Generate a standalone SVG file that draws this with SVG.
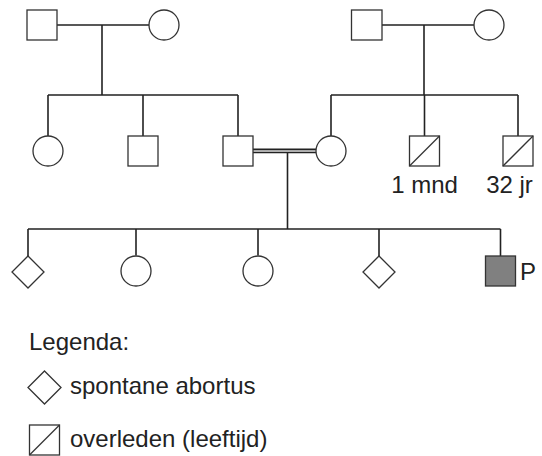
<svg xmlns="http://www.w3.org/2000/svg" width="542" height="456" viewBox="0 0 542 456">
<style>
.c{stroke:#222;stroke-width:1.6;fill:none}
.s{stroke:#333;stroke-width:1.3;fill:#fff}
.d{stroke:#333;stroke-width:1.3;fill:none}
text{font-family:"Liberation Sans",Arial,sans-serif;fill:#222;font-size:24px}
</style>
<rect width="542" height="456" fill="#fff"/>
<g id="connectors">
<path class="c" d="M57 25H149M102 25V95M48 95H238M48 95V136M143 95V136M238 95V136"/>
<path class="c" d="M382 25H474M424 25V95M331 95H518M331 95V136M424.5 95V136M518 95V136"/>
<path class="c" d="M253 149.3H316M253 152.5H316" stroke-width="1.3"/>
<path d="M253 150.9H316" stroke="#aaa" stroke-width="1.6"/>
<path class="c" d="M287.5 152.5V229M28 229H500.5M28 229V256M136 229V255.5M258 229V255.5M379 229V256M500.5 229V256"/>
</g>
<g id="gp1-father"><rect class="s" x="27" y="10" width="30" height="30"/></g>
<g id="gp1-mother"><circle class="s" cx="164" cy="25" r="15"/></g>
<g id="gp2-father"><rect class="s" x="351.5" y="10" width="30.5" height="30"/></g>
<g id="gp2-mother"><circle class="s" cx="489" cy="25" r="15"/></g>
<g id="aunt1"><circle class="s" cx="48" cy="151" r="15"/></g>
<g id="uncle1"><rect class="s" x="128" y="136" width="30" height="30"/></g>
<g id="father"><rect class="s" x="223" y="136" width="30" height="30"/></g>
<g id="mother"><circle class="s" cx="331" cy="151" r="15"/></g>
<g id="uncle2"><rect class="s" x="409.5" y="136" width="30" height="30"/><path class="d" d="M409.5 166L439.5 136"/><text x="424.5" y="193" text-anchor="middle">1 mnd</text></g>
<g id="uncle3"><rect class="s" x="503" y="136" width="30" height="30"/><path class="d" d="M503 166L533 136"/><text x="509.5" y="193" text-anchor="middle">32 jr</text></g>
<g id="child1"><path class="s" d="M28 256L44 272L28 288L12 272Z"/></g>
<g id="child2"><circle class="s" cx="136" cy="271" r="15"/></g>
<g id="child3"><circle class="s" cx="258" cy="271" r="15"/></g>
<g id="child4"><path class="s" d="M379 256L395 272L379 288L363 272Z"/></g>
<g id="proband"><rect class="s" x="485.5" y="256" width="30" height="30" style="fill:#808080"/><text x="520" y="280">P</text></g>
<g id="legend">
<text x="29" y="349.5">Legenda:</text>
<path class="s" d="M44.5 371L61 387.5L44.5 404L28 387.5Z"/>
<text x="70" y="394">spontane abortus</text>
<rect class="s" x="29.5" y="425" width="30" height="30"/><path class="d" d="M29.5 455L59.5 425"/>
<text x="70" y="447">overleden (leeftijd)</text>
</g>
</svg>
